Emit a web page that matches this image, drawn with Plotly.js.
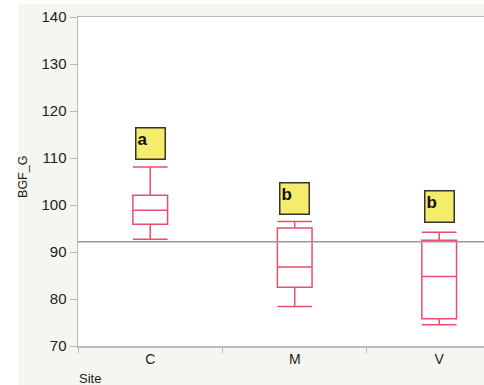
<!DOCTYPE html>
<html><head><meta charset="utf-8">
<script src="https://cdn.plot.ly/plotly-3.0.1.min.js"></script>
<style>html,body{margin:0;padding:0;background:#fff}#chart{width:484px;height:385px}</style>
</head><body><div id="chart"></div>
<script>
const sites = ['C', 'M', 'V'];
const upperWhisker = [108.1, 96.5, 94.2];
const q3 = [102.1, 95.1, 92.5];
const median = [98.9, 86.8, 84.8];
const q1 = [95.9, 82.5, 75.8];
const lowerWhisker = [92.7, 78.4, 74.5];
const groupLetters = ['a', 'b', 'b'];
const letterY = [113.1, 101.3, 99.6];
const grandMean = 92.2;
const yTicks = [70, 80, 90, 100, 110, 120, 130, 140];

const red = '#e8506a';
const traces = sites.map((s, i) => ({
  type: 'box', x: [s], q1: [q1[i]], median: [median[i]], q3: [q3[i]],
  lowerfence: [lowerWhisker[i]], upperfence: [upperWhisker[i]],
  width: 0.24, whiskerwidth: 1, line: {color: red, width: 1.5},
  fillcolor: 'rgba(255,255,255,0)', boxpoints: false, hoverinfo: 'skip', showlegend: false
}));

const annotations = sites.map((s, i) => ({
  x: s, y: letterY[i], xref: 'x', yref: 'y', text: '<b>' + groupLetters[i] + '</b>',
  showarrow: false, bgcolor: '#f6ec6c', bordercolor: '#333', borderwidth: 1.5, borderpad: 1,
  width: 26, height: 28, align: 'left', valign: 'top',
  font: {family: 'Liberation Sans Narrow, Liberation Sans, Arial', size: 17, color: '#111'}
}));
annotations.push({xref: 'paper', yref: 'paper', x: -0.002, y: -0.1, xanchor: 'left', yanchor: 'middle',
  text: 'Site', showarrow: false, font: {family: 'Liberation Sans, Arial', size: 13, color: '#222'}});
annotations.push({xref: 'paper', yref: 'paper', x: -0.137, y: 0.515, xanchor: 'center', yanchor: 'middle',
  text: 'BGF_G', textangle: -90, showarrow: false, font: {family: 'Liberation Sans, Arial', size: 12.5, color: '#222'}});

const layout = {
  width: 484, height: 385,
  margin: {l: 78, r: 0, t: 17, b: 39},
  paper_bgcolor: '#f6f6f1', plot_bgcolor: '#ffffff',
  font: {family: 'Liberation Sans, Arial', size: 13, color: '#222'},
  xaxis: {type: 'category', categoryarray: sites, range: [-0.5, 2.31], tickson: 'boundaries',
    ticks: 'outside', ticklen: 5, tickcolor: '#bbb', showgrid: false, zeroline: false,
    showline: true, linecolor: '#bbb', linewidth: 1.5, mirror: true,
    tickfont: {size: 14, color: '#222'}},
  yaxis: {range: [70, 140], tickvals: yTicks, ticks: 'outside', ticklen: 7, tickcolor: '#bbb',
    showgrid: false, zeroline: false, showline: true, linecolor: '#bbb', linewidth: 1.5,
    tickfont: {size: 15, color: '#222'}},
  shapes: [
    {type: 'line', xref: 'paper', x0: 0, x1: 1, yref: 'y', y0: grandMean, y1: grandMean,
      line: {color: '#999', width: 1.5}},
    {type: 'rect', xref: 'paper', yref: 'paper', x0: -0.2, x1: -0.148, y0: -0.2, y1: 1.1,
      fillcolor: '#fff', line: {width: 0}, layer: 'below'},
    {type: 'rect', xref: 'paper', yref: 'paper', x0: -0.2, x1: 1.1, y0: 1.04, y1: 1.1,
      fillcolor: '#fff', line: {width: 0}, layer: 'below'}
  ],
  annotations: annotations,
  showlegend: false
};
Plotly.newPlot('chart', traces, layout, {displayModeBar: false, staticPlot: true});
</script></body></html>
